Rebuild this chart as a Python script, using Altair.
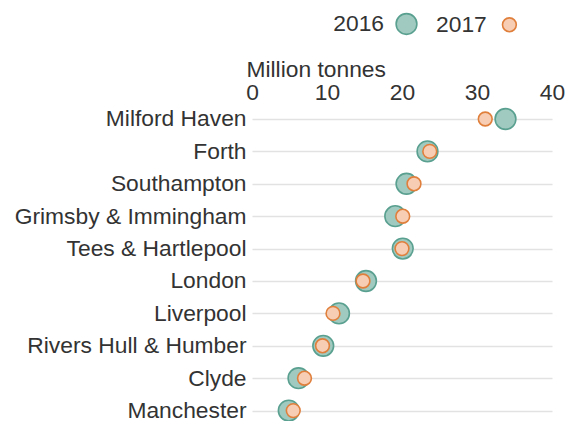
import altair as alt
import pandas as pd

ports = ["Milford Haven", "Forth", "Southampton", "Grimsby & Immingham",
         "Tees & Hartlepool", "London", "Liverpool", "Rivers Hull & Humber",
         "Clyde", "Manchester"]
v2016 = [33.8, 23.4, 20.6, 19.1, 20.1, 15.2, 11.6, 9.5, 6.2, 4.9]
v2017 = [31.1, 23.7, 21.6, 20.1, 20.0, 14.8, 10.8, 9.4, 7.0, 5.5]
years = ["2016", "2017"]
x_ticks = [0, 10, 20, 30, 40]

rows = []
for yr, vals in zip(years, [v2016, v2017]):
    for p, v in zip(ports, vals):
        rows.append({"port": p, "year": yr, "tonnes": v})
df = pd.DataFrame(rows)

FONT = "Liberation Sans"
TXT = "#333333"
FS = 22.8

def make_legend():
    return alt.Legend(
        orient="none", legendX=143, legendY=-95, direction="horizontal",
        title=None, labelAlign="right", labelOffset={"expr": "-34"},
        labelFontSize=FS, labelFont=FONT, labelColor=TXT, columnPadding=15,
        symbolStrokeWidth=1.6, padding=0,
    )

chart = alt.Chart(df).mark_circle(opacity=1, strokeWidth=1.6).encode(
    x=alt.X("tonnes:Q",
            scale=alt.Scale(domain=[0, 40], nice=False),
            axis=alt.Axis(orient="top", values=x_ticks, title="Million tonnes",
                          grid=False, ticks=False, domain=False, labelFlush=False,
                          labelFontSize=FS, titleFontSize=FS,
                          titleFontWeight="normal", titleAnchor="start",
                          titleAlign="left", titleX=-6, labelPadding=3,
                          titlePadding=0, labelColor=TXT, titleColor=TXT,
                          labelFont=FONT, titleFont=FONT)),
    y=alt.Y("port:N", sort=ports,
            scale=alt.Scale(type="point", padding=0.222, align=0.833),
            axis=alt.Axis(title=None, ticks=False, domain=False, grid=True,
                          gridColor="#e2e2e2", gridWidth=1.5, labelLimit=0,
                          labelFontSize=FS, labelColor=TXT, labelFont=FONT,
                          labelPadding=6)),
    fill=alt.Fill("year:N", scale=alt.Scale(domain=years, range=["#a0c9bf", "#f7cdb3"]),
                  legend=make_legend()),
    stroke=alt.Stroke("year:N", scale=alt.Scale(domain=years, range=["#5aa090", "#e07f3c"]),
                      legend=make_legend()),
    size=alt.Size("year:N", scale=alt.Scale(domain=years, range=[430, 190]),
                  legend=make_legend()),
    order=alt.Order("year:N"),
).properties(
    width=300, height=306,
    autosize=alt.AutoSizeParams(type="none"),
    padding={"left": 244, "top": 99, "right": 15, "bottom": 8},
).configure_view(stroke=None)

chart.save("out.html", embed_options={"renderer": "svg", "actions": False})
